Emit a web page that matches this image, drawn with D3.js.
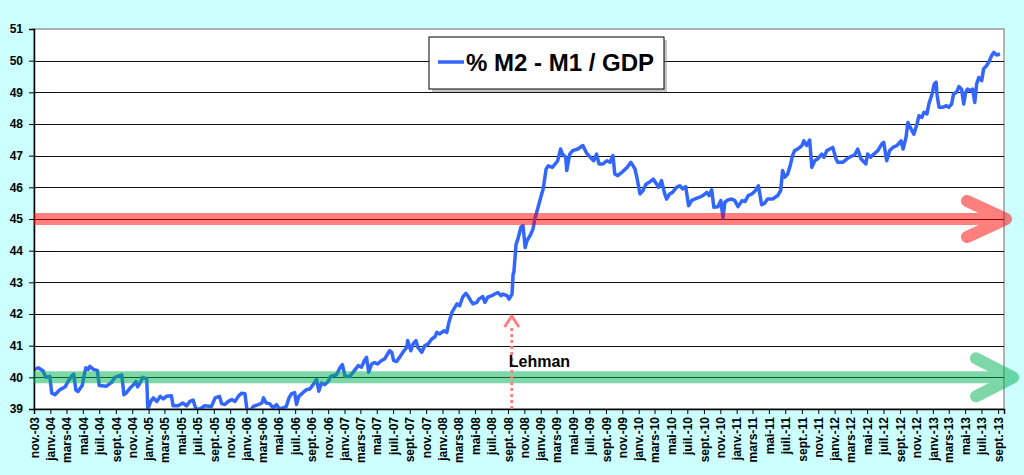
<!DOCTYPE html>
<html>
<head>
<meta charset="utf-8">
<script src="https://cdn.jsdelivr.net/npm/d3@7"></script>
<style>
  body { margin: 0; background: #ccffff; }
  svg { display: block; }
</style>
</head>
<body>
<svg width="1024" height="475"></svg>
<script>
// weekly-ish readings of (M2 - M1) / GDP, in %
const obsDates = [
  "2003-11-03","2003-11-17","2003-12-05","2003-12-15","2003-12-30","2004-01-06","2004-01-18","2004-02-04","2004-02-25","2004-03-07",
  "2004-03-19","2004-03-28","2004-04-05","2004-04-13","2004-04-29","2004-05-06","2004-05-12","2004-05-21","2004-05-27","2004-06-09",
  "2004-06-24","2004-07-01","2004-07-28","2004-08-16","2004-08-29","2004-09-23","2004-10-01","2004-10-11","2004-10-24","2004-11-06",
  "2004-11-15","2004-11-21","2004-11-30","2004-12-10","2004-12-25","2004-12-29","2005-01-09","2005-01-19","2005-02-01","2005-02-13",
  "2005-02-25","2005-03-08","2005-03-27","2005-04-02","2005-04-21","2005-05-09","2005-05-22","2005-06-04","2005-06-16","2005-06-26",
  "2005-07-11","2005-07-29","2005-08-23","2005-09-06","2005-09-22","2005-09-30","2005-10-12","2005-10-25","2005-11-07","2005-11-19",
  "2005-12-01","2005-12-13","2005-12-26","2006-01-02","2006-01-14","2006-01-26","2006-02-14","2006-02-27","2006-03-05","2006-03-15",
  "2006-03-28","2006-04-10","2006-04-22","2006-05-04","2006-05-16","2006-05-29","2006-06-08","2006-06-17","2006-06-29","2006-07-06",
  "2006-07-15","2006-07-28","2006-08-12","2006-08-24","2006-09-06","2006-09-19","2006-09-27","2006-10-07","2006-10-19","2006-11-01",
  "2006-11-10","2006-12-02","2006-12-14","2006-12-24","2007-01-03","2007-01-21","2007-02-03","2007-02-21","2007-03-05","2007-03-16",
  "2007-03-24","2007-04-01","2007-04-12","2007-04-23","2007-05-04","2007-05-19","2007-05-30","2007-06-11","2007-06-18","2007-06-26",
  "2007-07-03","2007-07-14","2007-07-25","2007-08-06","2007-08-21","2007-08-24","2007-09-05","2007-09-13","2007-09-24","2007-10-01",
  "2007-10-16","2007-10-27","2007-11-08","2007-11-22","2007-12-04","2007-12-11","2007-12-22","2008-01-06","2008-01-17","2008-01-25",
  "2008-02-05","2008-02-16","2008-02-24","2008-03-05","2008-03-16","2008-03-28","2008-04-04","2008-04-15","2008-04-23","2008-05-08",
  "2008-05-15","2008-05-30","2008-06-07","2008-06-18","2008-07-03","2008-07-14","2008-07-25","2008-08-06","2008-08-13","2008-08-28",
  "2008-09-05","2008-09-16","2008-09-20","2008-09-23","2008-10-01","2008-10-08","2008-10-19","2008-10-27","2008-11-04","2008-11-11",
  "2008-11-22","2008-12-03","2008-12-10","2008-12-22","2009-01-03","2009-01-10","2009-01-21","2009-01-29","2009-02-13","2009-02-24",
  "2009-03-05","2009-03-16","2009-03-23","2009-04-04","2009-04-08","2009-04-19","2009-04-30","2009-05-19","2009-06-07","2009-06-21",
  "2009-07-10","2009-07-17","2009-07-28","2009-08-06","2009-08-21","2009-09-05","2009-09-16","2009-09-27","2009-10-04","2009-10-15",
  "2009-10-30","2009-11-19","2009-12-03","2009-12-18","2009-12-25","2010-01-06","2010-01-17","2010-01-28","2010-02-09","2010-02-24",
  "2010-03-09","2010-03-16","2010-03-27","2010-04-08","2010-04-15","2010-04-26","2010-05-07","2010-05-22","2010-06-03","2010-06-14",
  "2010-06-25","2010-07-06","2010-07-17","2010-07-28","2010-08-13","2010-08-28","2010-09-12","2010-09-20","2010-09-30","2010-10-08",
  "2010-10-23","2010-11-03","2010-11-11","2010-11-18","2010-11-29","2010-12-14","2010-12-25","2011-01-06","2011-01-21","2011-02-01",
  "2011-02-13","2011-02-27","2011-03-12","2011-03-23","2011-04-04","2011-04-15","2011-04-26","2011-05-15","2011-06-03","2011-06-14",
  "2011-06-21","2011-06-29","2011-07-10","2011-07-21","2011-07-28","2011-08-05","2011-08-16","2011-09-01","2011-09-08","2011-09-19",
  "2011-09-30","2011-10-08","2011-10-19","2011-10-30","2011-11-14","2011-11-22","2011-12-03","2011-12-14","2011-12-25","2012-01-06",
  "2012-01-13","2012-01-31","2012-02-16","2012-03-01","2012-03-16","2012-03-27","2012-04-08","2012-04-15","2012-04-26","2012-05-03",
  "2012-05-14","2012-05-26","2012-06-10","2012-06-25","2012-07-02","2012-07-13","2012-07-24","2012-08-05","2012-08-20","2012-09-04",
  "2012-09-12","2012-09-23","2012-09-30","2012-10-15","2012-10-22","2012-11-03","2012-11-10","2012-11-21","2012-11-29","2012-12-10",
  "2012-12-17","2012-12-29","2013-01-06","2013-01-13","2013-01-17","2013-01-24","2013-02-08","2013-02-20","2013-03-01","2013-03-12",
  "2013-03-19","2013-03-30","2013-04-08","2013-04-18","2013-04-26","2013-05-03","2013-05-10","2013-05-22","2013-05-29","2013-06-06",
  "2013-06-13","2013-06-21","2013-07-02","2013-07-09","2013-07-20","2013-07-28","2013-08-08","2013-08-16","2013-08-27","2013-09-08"
];

const ratioValues = [
  40.25,40.30,40.20,40.00,40.03,39.50,39.45,39.60,39.70,39.87,
  40.03,40.10,39.60,39.55,39.75,40.08,40.30,40.25,40.35,40.25,
  40.22,39.74,39.72,39.84,40.00,40.08,39.45,39.52,39.66,39.77,
  39.87,39.70,39.82,40.00,39.95,39.00,39.24,39.35,39.24,39.40,
  39.32,39.40,39.42,39.10,39.10,39.19,39.10,39.24,39.28,39.00,
  39.00,39.10,39.08,39.35,39.40,39.17,39.14,39.24,39.30,39.24,
  39.40,39.50,39.48,39.00,38.95,39.08,39.14,39.19,39.35,39.19,
  39.17,39.03,39.14,39.00,39.03,39.08,39.35,39.48,39.52,39.14,
  39.40,39.50,39.61,39.63,39.77,39.93,39.56,39.82,39.77,39.87,
  40.03,40.08,40.29,40.40,40.03,40.03,40.17,40.37,40.32,40.53,
  40.63,40.16,40.42,40.47,40.42,40.53,40.58,40.74,40.84,40.79,
  40.53,40.50,40.63,40.79,40.95,41.16,40.84,41.05,41.16,40.95,
  40.79,41.00,41.05,41.21,41.28,41.42,41.37,41.47,41.42,41.74,
  42.05,42.21,42.32,42.26,42.53,42.65,42.58,42.42,42.32,42.37,
  42.47,42.55,42.37,42.53,42.58,42.63,42.68,42.58,42.63,42.58,
  42.47,42.63,43.26,43.32,44.20,44.37,44.74,44.79,44.10,44.32,
  44.47,44.68,45.00,45.37,45.74,45.95,46.58,46.68,46.63,46.74,
  46.84,47.21,47.05,46.95,46.53,47.05,47.16,47.21,47.32,47.08,
  46.90,46.84,47.05,46.74,46.74,46.84,46.79,47.00,46.42,46.37,
  46.47,46.63,46.79,46.58,46.32,45.79,45.90,46.10,46.16,46.26,
  46.10,46.00,46.21,45.79,45.63,45.79,45.84,46.00,46.05,45.95,
  46.02,45.42,45.58,45.63,45.68,45.74,45.84,45.74,45.92,45.37,
  45.39,45.58,45.03,45.53,45.60,45.63,45.58,45.39,45.58,45.55,
  45.74,45.79,45.90,46.05,45.45,45.50,45.63,45.63,45.74,45.90,
  46.53,46.32,46.42,46.74,47.00,47.16,47.21,47.32,47.47,47.32,
  47.49,46.63,46.84,46.90,47.05,46.95,47.16,47.21,47.26,46.90,
  46.79,46.79,46.90,46.97,47.03,47.21,46.90,46.84,46.74,47.05,
  46.95,47.05,47.16,47.37,47.42,46.84,47.16,47.26,47.32,47.47,
  47.21,47.58,48.05,47.79,47.68,48.00,48.26,48.21,48.37,48.32,
  48.63,48.95,49.26,49.32,48.90,48.53,48.53,48.58,48.53,48.63,
  48.95,49.00,49.18,49.10,48.63,49.00,49.10,49.05,49.10,48.68,
  49.26,49.47,49.37,49.74,49.84,49.95,50.16,50.26,50.18,50.21
];

const yTicks = [39, 40, 41, 42, 43, 44, 45, 46, 47, 48, 49, 50, 51];
const monthLabels = ["janv.", "févr.", "mars", "avr.", "mai", "juin", "juil.", "août", "sept.", "oct.", "nov.", "déc."];
const seriesName = "% M2 - M1 / GDP";
const upperLevel = 45;
const lowerLevel = 40;
const lehmanDate = "2008-09-15";
const lehmanLevel = 42;

const parse = d3.timeParse("%Y-%m-%d");
const data = obsDates.map((d, i) => ({ date: parse(d), value: ratioValues[i] }));

const svg = d3.select("svg");
const plotLeft = 34, plotRight = 1004, plotTop = 29, plotBottom = 409;

const x = d3.scaleTime()
    .domain([new Date(2003, 10, 1), new Date(2013, 8, 23)])
    .range([plotLeft, plotRight]);
const y = d3.scaleLinear()
    .domain([39, 51])
    .range([plotBottom, plotTop]);

// plot area
svg.append("rect")
    .attr("x", plotLeft).attr("y", plotTop)
    .attr("width", plotRight - plotLeft).attr("height", plotBottom - plotTop)
    .attr("fill", "#fff")
    .attr("stroke", "#9a9a9a")
    .attr("stroke-width", 1.5);

svg.append("g")
    .selectAll("line")
    .data(yTicks.filter(v => v > 39 && v < 51))
    .enter().append("line")
        .attr("x1", plotLeft).attr("x2", plotRight)
        .attr("y1", d => Math.round(y(d)) + 0.5)
        .attr("y2", d => Math.round(y(d)) + 0.5)
        .attr("stroke", "#111")
        .attr("stroke-width", 1);

svg.append("clipPath").attr("id", "plot")
  .append("rect")
    .attr("x", plotLeft).attr("y", plotTop)
    .attr("width", plotRight - plotLeft).attr("height", plotBottom - plotTop);

const line = d3.line()
    .x(d => x(d.date))
    .y(d => y(d.value));

svg.append("path")
    .datum(data)
    .attr("clip-path", "url(#plot)")
    .attr("d", line)
    .attr("fill", "none")
    .attr("stroke", "#3366ff")
    .attr("stroke-width", 3.5)
    .attr("stroke-linejoin", "round");

// axes
const yAxis = svg.append("g")
    .attr("transform", `translate(${plotLeft},0)`)
    .call(d3.axisLeft(y).tickValues(yTicks).tickSize(5).tickPadding(6).tickFormat(d3.format("d")));

const xAxis = svg.append("g")
    .attr("transform", `translate(0,${plotBottom})`)
    .call(d3.axisBottom(x)
        .ticks(d3.timeMonth.every(2))
        .tickSize(5)
        .tickFormat(d => monthLabels[d.getMonth()] + "-" + String(d.getFullYear()).slice(2)));

xAxis.selectAll("text")
    .attr("transform", "rotate(-90)")
    .attr("x", -8)
    .attr("y", 0)
    .attr("dy", "0.35em")
    .attr("text-anchor", "end");

[yAxis, xAxis].forEach(a => {
  a.select(".domain").attr("stroke", "#000").attr("stroke-width", 1.5);
  a.selectAll(".tick line").attr("stroke", "#000");
  a.selectAll("text")
      .attr("fill", "#000")
      .style("font-family", "Arial, 'Liberation Sans', sans-serif")
      .style("font-weight", "bold");
});
yAxis.selectAll("text").style("font-size", "12px");
xAxis.selectAll("text").style("font-size", "12px");

// threshold arrows
function bigArrow(level, color, tip, armDx, armDy) {
  const yy = y(level);
  const g = svg.append("g").attr("opacity", 0.5);
  g.append("line")
      .attr("x1", plotLeft).attr("x2", tip)
      .attr("y1", yy).attr("y2", yy)
      .attr("stroke", color)
      .attr("stroke-width", 12);
  g.append("path")
      .attr("d", `M${tip - armDx},${yy - armDy}L${tip},${yy}L${tip - armDx},${yy + armDy}`)
      .attr("fill", "none")
      .attr("stroke", color)
      .attr("stroke-width", 12)
      .attr("stroke-linecap", "round")
      .attr("stroke-linejoin", "round");
}
bigArrow(upperLevel, "#ff0000", 1006, 39, 18);
bigArrow(lowerLevel, "#00b050", 1013, 37, 19);

// Lehman marker
const lx = x(parse(lehmanDate));
const ly = y(lehmanLevel);
svg.append("line")
    .attr("x1", lx).attr("x2", lx)
    .attr("y1", plotBottom).attr("y2", ly + 13)
    .attr("stroke", "#ff8080")
    .attr("stroke-width", 3)
    .attr("stroke-dasharray", "3,3");
svg.append("path")
    .attr("d", `M${lx - 6.5},${ly + 12}L${lx},${ly + 2}L${lx + 6.5},${ly + 12}`)
    .attr("fill", "none")
    .attr("stroke", "#ff8080")
    .attr("stroke-width", 3)
    .attr("stroke-linecap", "round")
    .attr("stroke-linejoin", "round");
svg.append("text")
    .attr("x", lx - 3)
    .attr("y", 367)
    .text("Lehman")
    .style("font-family", "Arial, 'Liberation Sans', sans-serif")
    .style("font-weight", "bold")
    .style("font-size", "16px")
    .attr("fill", "#000");

// legend
const legend = svg.append("g").attr("transform", "translate(429,37)");
legend.append("rect")
    .attr("x", 3).attr("y", 3)
    .attr("width", 235).attr("height", 52)
    .attr("fill", "#7f7f7f")
    .attr("opacity", 0.45);
legend.append("rect")
    .attr("width", 235).attr("height", 52)
    .attr("fill", "#fff")
    .attr("stroke", "#000")
    .attr("stroke-width", 1);
legend.append("line")
    .attr("x1", 9).attr("x2", 35)
    .attr("y1", 25).attr("y2", 25)
    .attr("stroke", "#3366ff")
    .attr("stroke-width", 3.5);
legend.append("text")
    .attr("x", 37).attr("y", 34)
    .text(seriesName)
    .style("font-family", "Arial, 'Liberation Sans', sans-serif")
    .style("font-weight", "bold")
    .style("font-size", "24px")
    .attr("fill", "#000");
</script>
</body>
</html>
